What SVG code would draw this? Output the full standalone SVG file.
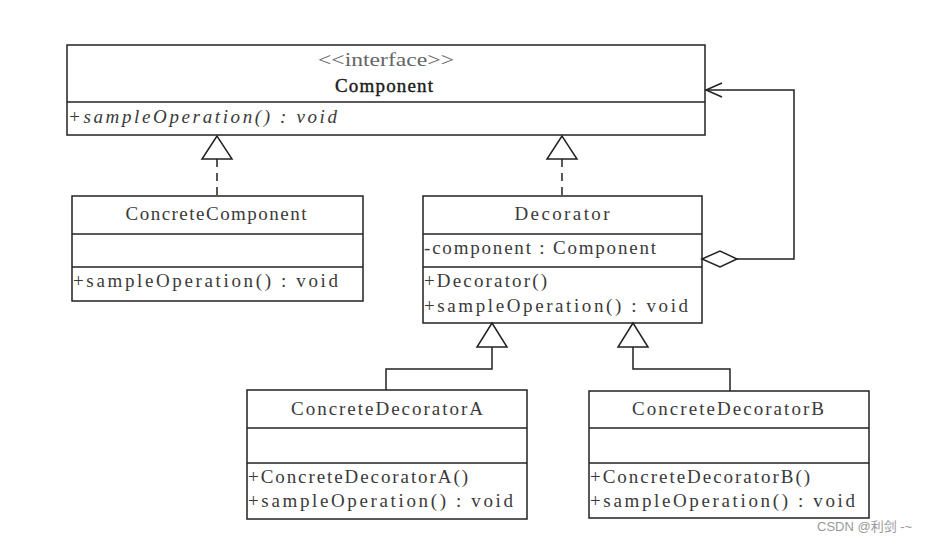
<svg xmlns="http://www.w3.org/2000/svg" width="936" height="543" viewBox="0 0 936 543">
<style>
.box{fill:#fff;stroke:#222;stroke-width:1.5}
.ln{fill:none;stroke:#222;stroke-width:1.5}
.t{font-family:"Liberation Serif","DejaVu Serif",serif;font-size:19px;fill:#3a3a3a}
.c{text-anchor:middle}
.wm{font-family:"Liberation Sans","Noto Sans CJK SC",sans-serif;font-size:13px;fill:#999}
</style>
<rect width="936" height="543" fill="#fff"/>
<g id="Component">
<rect class="box" x="67" y="45" width="638" height="90"/>
<line class="ln" x1="67" y1="102" x2="705" y2="102"/>
<text class="t c" x="386" y="66" textLength="136" lengthAdjust="spacingAndGlyphs" style="fill:#666">&lt;&lt;interface&gt;&gt;</text>
<text class="t c" x="384" y="92" textLength="98" lengthAdjust="spacing" style="fill:#1a1a1a;stroke:#1a1a1a;stroke-width:0.4">Component</text>
<text class="t" x="68" y="123" textLength="269" lengthAdjust="spacing" font-style="italic">+sampleOperation() : void</text>
</g>
<g id="ConcreteComponent">
<rect class="box" x="72" y="196" width="291" height="105"/>
<line class="ln" x1="72" y1="234" x2="363" y2="234"/>
<line class="ln" x1="72" y1="267" x2="363" y2="267"/>
<text class="t c" x="216" y="220" textLength="181" lengthAdjust="spacing">ConcreteComponent</text>
<text class="t" x="73" y="287" textLength="265" lengthAdjust="spacing">+sampleOperation() : void</text>
</g>
<g id="Decorator">
<rect class="box" x="423" y="196" width="279" height="127"/>
<line class="ln" x1="423" y1="234" x2="702" y2="234"/>
<line class="ln" x1="423" y1="267" x2="702" y2="267"/>
<text class="t c" x="562" y="220" textLength="95" lengthAdjust="spacing">Decorator</text>
<text class="t" x="424" y="254" textLength="232" lengthAdjust="spacing">-component : Component</text>
<text class="t" x="424" y="287" textLength="123" lengthAdjust="spacing">+Decorator()</text>
<text class="t" x="424" y="312" textLength="264" lengthAdjust="spacing">+sampleOperation() : void</text>
</g>
<g id="ConcreteDecoratorA">
<rect class="box" x="247" y="390" width="280" height="129"/>
<line class="ln" x1="247" y1="428" x2="527" y2="428"/>
<line class="ln" x1="247" y1="463" x2="527" y2="463"/>
<text class="t c" x="387" y="415" textLength="192" lengthAdjust="spacing">ConcreteDecoratorA</text>
<text class="t" x="248" y="483" textLength="220" lengthAdjust="spacing">+ConcreteDecoratorA()</text>
<text class="t" x="248" y="507" textLength="265" lengthAdjust="spacing">+sampleOperation() : void</text>
</g>
<g id="ConcreteDecoratorB">
<rect class="box" x="589" y="391" width="280" height="127"/>
<line class="ln" x1="589" y1="428" x2="869" y2="428"/>
<line class="ln" x1="589" y1="463" x2="869" y2="463"/>
<text class="t c" x="728" y="415" textLength="192" lengthAdjust="spacing">ConcreteDecoratorB</text>
<text class="t" x="590" y="483" textLength="220" lengthAdjust="spacing">+ConcreteDecoratorB()</text>
<text class="t" x="590" y="507" textLength="265" lengthAdjust="spacing">+sampleOperation() : void</text>
</g>
<g id="connectors">
<line class="ln" x1="217" y1="159" x2="217" y2="196" stroke-dasharray="8,6"/>
<polygon class="box" points="217,136 202,159 232,159"/>
<line class="ln" x1="562" y1="159" x2="562" y2="196" stroke-dasharray="8,6"/>
<polygon class="box" points="562,136 547,159 577,159"/>
<polyline class="ln" points="737,259 794,259 794,90 706,90"/>
<polyline class="ln" points="722,83 706,90 722,97"/>
<polygon class="box" points="702,259 720,251 737,259 720,267"/>
<polyline class="ln" points="386,390 386,369 492,369 492,347"/>
<polygon class="box" points="492,323 477,347 507,347"/>
<polyline class="ln" points="730,391 730,369 633,369 633,347"/>
<polygon class="box" points="633,323 618,347 648,347"/>
</g>
<text class="wm" x="817" y="531">CSDN @利剑 -~</text>
</svg>
